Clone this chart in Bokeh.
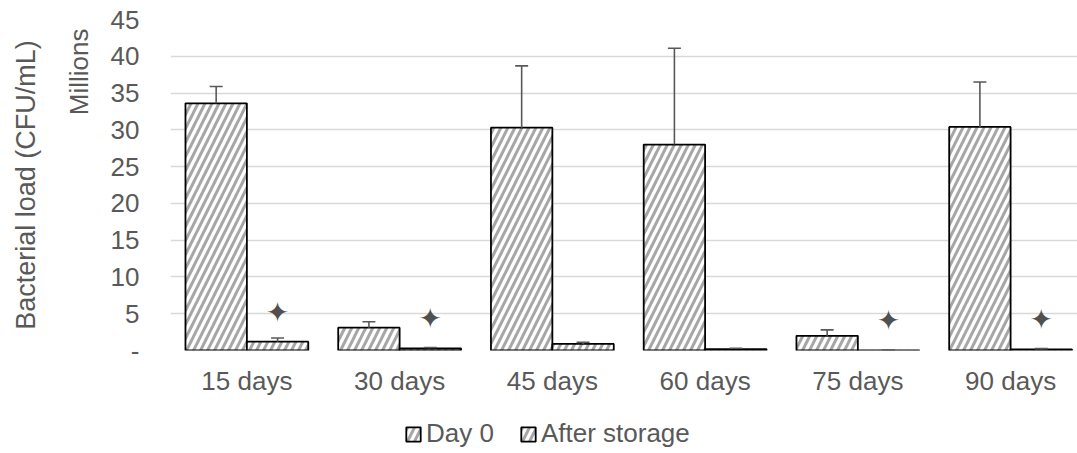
from bokeh.plotting import figure
from bokeh.layouts import column
from bokeh.models import (ColumnDataSource, Range1d, FixedTicker, Whisker,
                          TeeHead, Title, Legend, LegendItem)
from bokeh.core.properties import value
from bokeh.embed import file_html
from bokeh.resources import INLINE

categories = ["15 days", "30 days", "45 days", "60 days", "75 days", "90 days"]
day0 = [33.6, 3.1, 30.3, 28.0, 2.0, 30.4]
day0_err = [2.3, 0.8, 8.4, 13.1, 0.8, 6.1]
after = [1.2, 0.3, 0.9, 0.2, 0.02, 0.15]
after_err = [0.5, 0.1, 0.2, 0.1, 0.05, 0.1]
star_cats = ["15 days", "30 days", "75 days", "90 days"]
star_y = [5.2, 4.35, 4.1, 4.2]
y_ticks = [0, 5, 10, 15, 20, 25, 30, 35, 40, 45]
series_names = ["Day 0", "After storage"]

FONT = "Liberation Sans"
TXT = "#595959"
FS = "26px"

W = 0.402
off = 0.201
idx = list(range(len(categories)))
src = ColumnDataSource(dict(
    x0=[i - off for i in idx], x1=[i + off for i in idx],
    day0=day0, after=after,
    d0_up=[v + e for v, e in zip(day0, day0_err)],
    af_up=[v + e for v, e in zip(after, after_err)],
))
star_src = ColumnDataSource(dict(x=[categories.index(c) + off for c in star_cats], y=star_y,
                                 t=["\u2726"] * len(star_cats)))

p = figure(width=1077, height=405, x_range=Range1d(-0.5, 5.438),
           y_range=Range1d(0, 45), output_backend="svg", toolbar_location=None,
           min_border_left=169, min_border_right=0, min_border_top=19, min_border_bottom=55)
p.outline_line_color = None
p.background_fill_color = "white"

hatch = dict(fill_color="white", hatch_pattern="/", hatch_color="#a6a6a6",
             hatch_weight=3.0, hatch_scale=14, line_color="black", line_width=1.8)
r0 = p.vbar(x="x0", top="day0", bottom=0, width=W, source=src, **hatch)
r1 = p.vbar(x="x1", top="after", bottom=0, width=W, source=src, **hatch)

for col_lo, col_up, base in (("day0", "d0_up", "x0"), ("after", "af_up", "x1")):
    w = Whisker(source=src, base=base, lower=col_lo, upper=col_up,
                line_color=TXT, line_width=1.6, lower_head=None,
                upper_head=TeeHead(size=13, line_color=TXT, line_width=1.6))
    w.level = "overlay"
    p.add_layout(w)

p.text(x="x", y="y", text="t", source=star_src,
       text_font=value("DejaVu Sans"), text_font_size="28px", text_color="#505050",
       text_align="center", text_baseline="middle")

p.xgrid.grid_line_color = None
p.ygrid.grid_line_color = "#d9d9d9"
p.ygrid.grid_line_width = 1.6
p.ygrid.ticker = FixedTicker(ticks=y_ticks)

p.xaxis.ticker = FixedTicker(ticks=idx)
p.xaxis.major_label_overrides = {i: c for i, c in zip(idx, categories)}
p.yaxis.ticker = FixedTicker(ticks=y_ticks)
p.yaxis.major_label_overrides = {0: "-"}
for ax in (p.xaxis[0], p.yaxis[0]):
    ax.axis_line_color = None
    ax.major_tick_line_color = None
    ax.minor_tick_line_color = None
    ax.major_tick_in = 0
    ax.major_tick_out = 0
    ax.major_label_text_font = FONT
    ax.major_label_text_font_size = FS
    ax.major_label_text_color = TXT
p.yaxis.major_label_standoff = 31
p.xaxis.major_label_standoff = 15

t_mill = Title(text="Millions", align="right", offset=9, standoff=27,
               text_font=FONT, text_font_size=FS, text_color=TXT, text_font_style="normal")
p.add_layout(t_mill, "left")
t_load = Title(text="Bacterial load (CFU/mL)", align="center", standoff=16,
               text_font=FONT, text_font_size="27px", text_color=TXT, text_font_style="normal")
p.add_layout(t_load, "left")

# legend strip
lg = figure(width=1077, height=48, x_range=Range1d(0, 1), y_range=Range1d(0, 1),
            output_backend="svg", toolbar_location=None,
            x_axis_location=None, y_axis_location=None,
            min_border_left=169, min_border_right=0, min_border_top=0, min_border_bottom=0)
lg.outline_line_color = None
lg.grid.grid_line_color = None
e0 = lg.vbar(x=[0.5], top=[0.5], width=0.1, visible=False, **hatch)
e1 = lg.vbar(x=[0.5], top=[0.5], width=0.1, visible=False, **hatch)
legend = Legend(items=[LegendItem(label=series_names[0], renderers=[e0]),
                       LegendItem(label=series_names[1], renderers=[e1])],
                location=(234, 4), orientation="horizontal",
                glyph_width=18, glyph_height=18, label_standoff=4, spacing=25,
                padding=0, margin=0, border_line_color=None, background_fill_alpha=0,
                inactive_fill_alpha=0,
                label_text_font=FONT, label_text_font_size=FS, label_text_color=TXT)
lg.add_layout(legend)

layout = column(p, lg, spacing=0)
open("out.html", "w").write(file_html(layout, INLINE))
